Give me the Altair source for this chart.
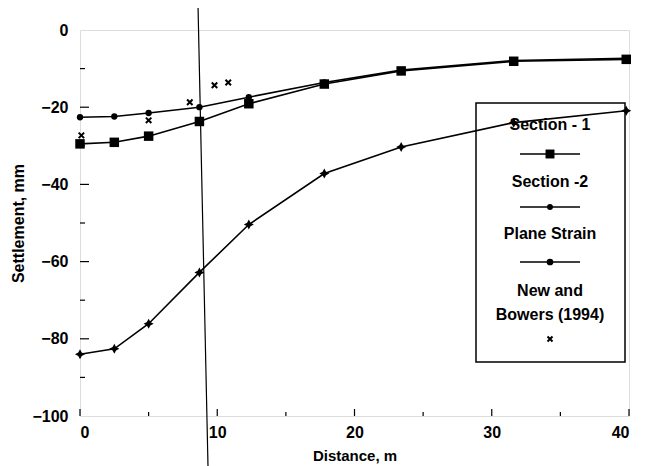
import altair as alt
import pandas as pd

# ---- data ----
distance = [0, 2.5, 5, 8.7, 12.3, 17.8, 23.4, 31.6, 39.8]
section1 = [-29.5, -29.1, -27.5, -23.7, -19.1, -14.0, -10.6, -8.1, -7.6]
section2 = [-22.6, -22.4, -21.5, -20.0, -17.4, -13.6, -10.4, -7.9, -7.3]
plane_strain = [-84.0, -82.6, -76.1, -62.8, -50.4, -37.2, -30.3, -24.0, -20.9]
nb_distance = [0.1, 5.0, 8.0, 9.8, 10.8]
nb_settlement = [-27.3, -23.4, -18.7, -14.3, -13.6]

series_names = ["Section - 1", "Section -2", "Plane Strain", "New and\nBowers (1994)"]
x_ticks_major = [0, 10, 20, 30, 40]
x_ticks_minor = [5, 15, 25, 35]
y_ticks_major = [0, -20, -40, -60, -80, -100]
y_ticks_minor = [-10, -30, -50, -70, -90]

# scan artefact: near-vertical line crossing the whole figure
guide_x = [8.6, 9.35]
guide_y = [6, -117]

W, H = 549, 386
FONT = "Liberation Sans"

xs = alt.Scale(domain=[0, 40], nice=False, zero=False)
ys = alt.Scale(domain=[-100, 0], nice=False, zero=False)

rows = []
for name, vals in [(series_names[0], section1), (series_names[1], section2), (series_names[2], plane_strain)]:
    for d, v in zip(distance, vals):
        rows.append({"Distance": d, "Settlement": v, "Series": name})
df = pd.DataFrame(rows)
nb = pd.DataFrame({"Distance": nb_distance, "Settlement": nb_settlement})

X = alt.X("Distance:Q", scale=xs, axis=alt.Axis(
    title="Distance, m", values=x_ticks_major, ticks=False, domain=False, grid=False,
    labelFont=FONT, labelFontSize=16, labelFontWeight="bold", labelColor="black",
    labelPadding=8, titleFont=FONT, titleFontSize=15, titleFontWeight="bold",
    titleColor="black", titlePadding=8))
Y = alt.Y("Settlement:Q", scale=ys, axis=alt.Axis(
    title="Settlement, mm", values=y_ticks_major, ticks=False, domain=False, grid=False,
    labelFont=FONT, labelFontSize=16, labelFontWeight="bold", labelColor="black",
    labelPadding=12, titleFont=FONT, titleFontSize=16, titleFontWeight="bold",
    titleColor="black", titlePadding=5))

lines = alt.Chart(df).mark_line(color="black", strokeWidth=1.6).encode(
    x=X, y=Y, detail="Series:N")

def pts(name, shape, size):
    return alt.Chart(df[df.Series == name]).mark_point(
        shape=shape, size=size, filled=True, color="black", opacity=1).encode(
        x="Distance:Q", y="Settlement:Q")

STAR = "M0,-1L0.35,-0.35L1,0L0.35,0.35L0,1L-0.35,0.35L-1,0L-0.35,-0.35Z"
XSHAPE = "M-1,-1L1,1M-1,1L1,-1"

p1 = pts(series_names[0], "square", 90)
p2 = pts(series_names[1], "circle", 40)
p3 = pts(series_names[2], STAR, 100)
p4 = alt.Chart(nb).mark_point(shape=XSHAPE, size=30, filled=False, color="black",
                              strokeWidth=2, opacity=1).encode(
    x="Distance:Q", y="Settlement:Q")

guide = alt.Chart(pd.DataFrame({"x": [guide_x[0]], "x2": [guide_x[1]],
                                "y": [guide_y[0]], "y2": [guide_y[1]]})).mark_rule(
    color="black", strokeWidth=1.2).encode(x="x:Q", x2="x2", y="y:Q", y2="y2")

def xtick(vals, length):
    return alt.Chart(pd.DataFrame({"v": vals})).mark_rule(color="black", strokeWidth=1.2).encode(
        x="v:Q", y=alt.value(H), y2=alt.value(H - length))

def ytick(vals, length):
    return alt.Chart(pd.DataFrame({"v": vals})).mark_rule(color="black", strokeWidth=1.2).encode(
        y="v:Q", x=alt.value(0), x2=alt.value(length))

ticks = [xtick(x_ticks_major, 7), xtick(x_ticks_minor, 4),
         ytick(y_ticks_major[1:-1], 9), ytick(y_ticks_minor, 5)]

# ---- legend box (label above sample, as in the reference) ----
one = pd.DataFrame({"a": [0]})
LX = 470
box = alt.Chart(one).mark_rect(fillOpacity=0, stroke="black", strokeWidth=1.5).encode(
    x=alt.value(396), x2=alt.value(545), y=alt.value(73), y2=alt.value(332))

text_y = [95, 152, 204, 261]
sample_y = [124, 177, 232, 309]
legend_shapes = [("square", 80, True), ("circle", 35, True), ("circle", 45, True), (XSHAPE, 25, False)]
legend_layers = [box]
for i, name in enumerate(series_names):
    legend_layers.append(alt.Chart(pd.DataFrame({"label": [name]})).mark_text(
        font=FONT, fontSize=16, fontWeight="bold", color="black", align="center",
        baseline="middle", lineBreak="\n", lineHeight=24).encode(
        x=alt.value(LX), y=alt.value(text_y[i]), text="label:N"))
    if i < 3:
        legend_layers.append(alt.Chart(one).mark_rule(color="black", strokeWidth=1.6).encode(
            x=alt.value(LX - 30), x2=alt.value(LX + 30), y=alt.value(sample_y[i])))
    shp, sz, fl = legend_shapes[i]
    legend_layers.append(alt.Chart(one).mark_point(
        shape=shp, size=sz, filled=fl, color="black", opacity=1,
        strokeWidth=2 if not fl else 1).encode(
        x=alt.value(LX), y=alt.value(sample_y[i])))

chart = alt.layer(lines, guide, *ticks, p1, p2, p3, p4, *legend_layers).properties(
    width=W, height=H,
    autosize=alt.AutoSizeParams(type="none"),
    padding={"left": 72, "top": 22, "right": 8, "bottom": 50},
).configure_view(stroke="black", strokeWidth=1.6).configure(background="white")

chart.save("out.html", embed_options={"renderer": "svg", "actions": False})
